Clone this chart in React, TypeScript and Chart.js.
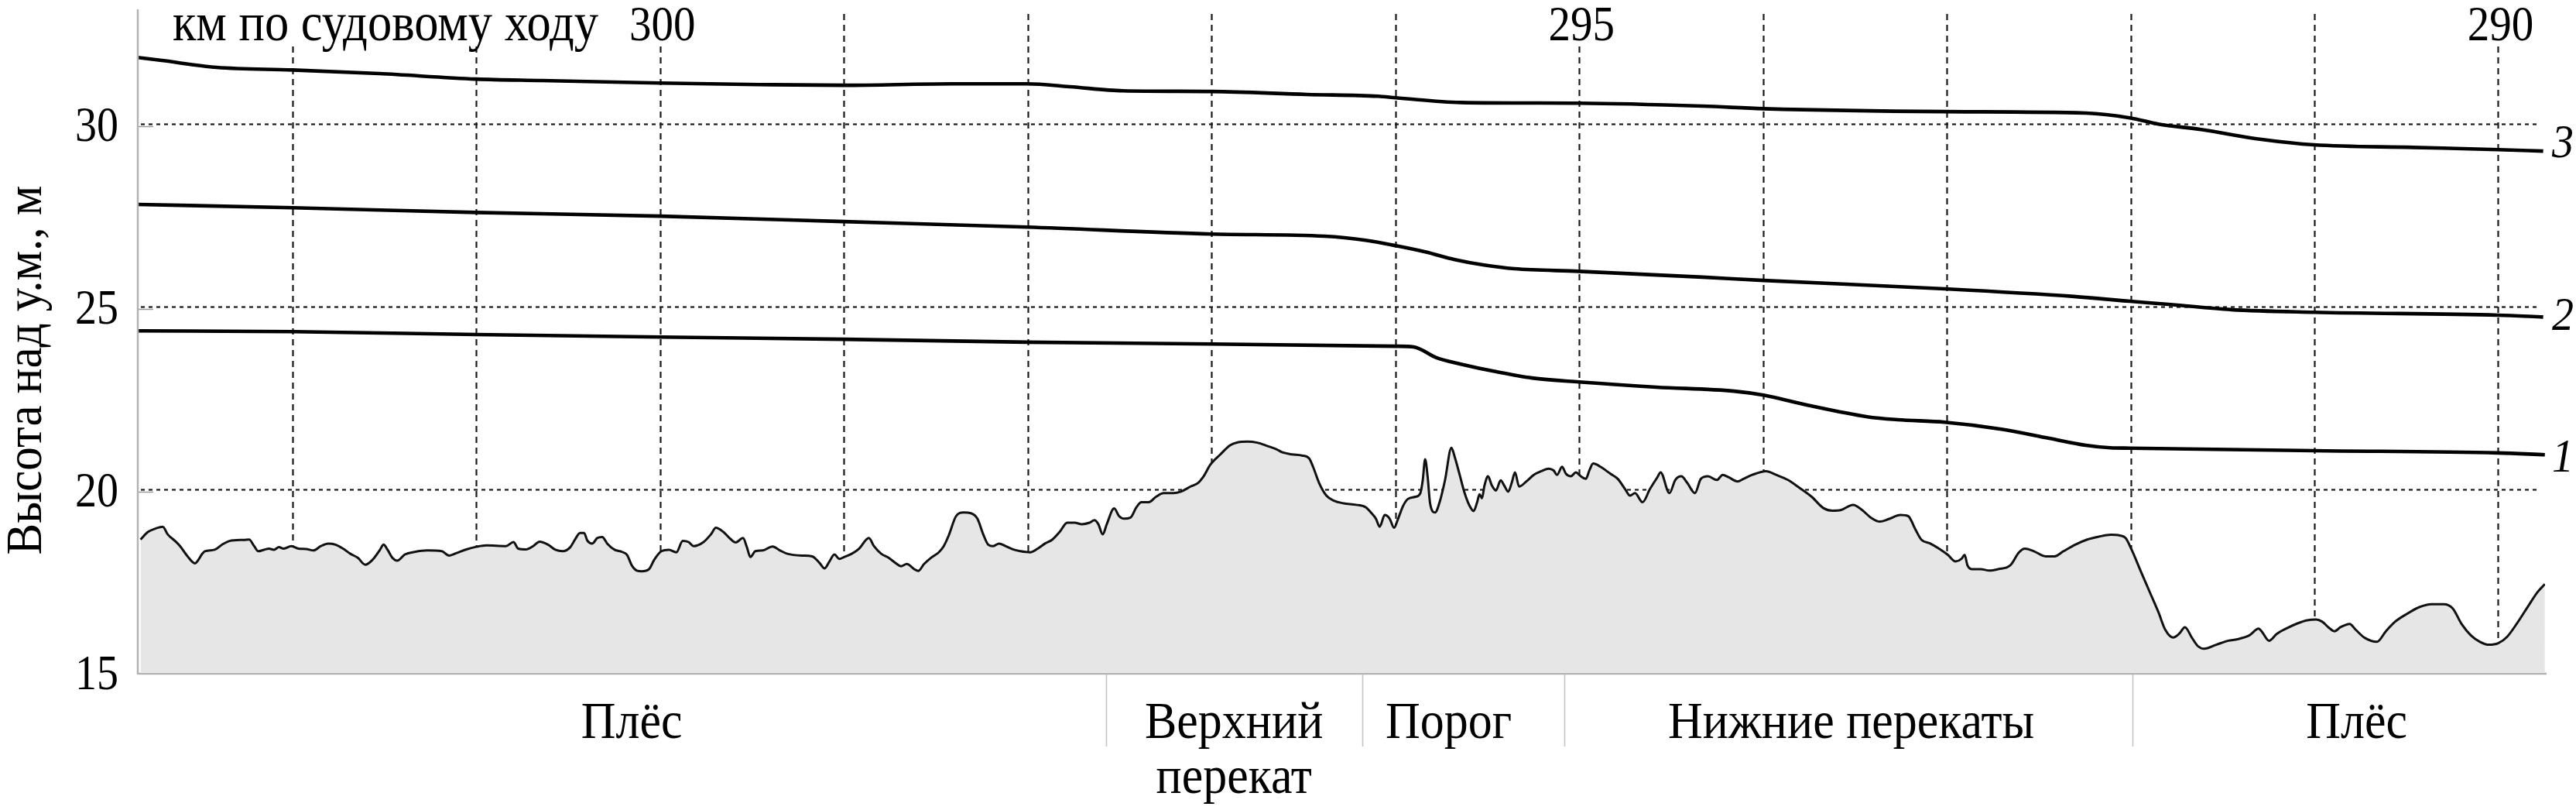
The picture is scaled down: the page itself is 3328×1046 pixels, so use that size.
import React, { useEffect, useRef } from 'react';
import { Chart, registerables } from 'chart.js';

Chart.register(...registerables);

// ---------- data ----------
// river-bed profile (km along the fairway, elevation m a.s.l.)
const profileKm = [
  302.827, 302.786, 302.746, 302.706, 302.679, 302.639, 302.612, 302.571, 302.531, 302.491,
  302.477, 302.424, 302.383, 302.343, 302.263, 302.236, 302.209, 302.187, 302.155, 302.128,
  302.101, 302.074, 302.048, 302.007, 301.967, 301.927, 301.886, 301.846, 301.806, 301.766,
  301.725, 301.685, 301.645, 301.604, 301.564, 301.524, 301.505, 301.483, 301.457, 301.43,
  301.389, 301.336, 301.268, 301.188, 301.148, 301.107, 301.054, 301.0, 300.946, 300.839,
  300.798, 300.772, 300.731, 300.691, 300.656, 300.61, 300.57, 300.53, 300.489, 300.463,
  300.436, 300.414, 300.396, 300.369, 300.342, 300.315, 300.288, 300.248, 300.207, 300.18,
  300.154, 300.127, 300.1, 300.06, 300.033, 299.993, 299.952, 299.912, 299.877, 299.845,
  299.818, 299.764, 299.724, 299.697, 299.657, 299.616, 299.589, 299.549, 299.528, 299.509,
  299.482, 299.442, 299.388, 299.348, 299.308, 299.227, 299.173, 299.133, 299.106, 299.079,
  299.052, 299.025, 298.999, 298.958, 298.918, 298.864, 298.837, 298.797, 298.757, 298.717,
  298.69, 298.658, 298.618, 298.596, 298.564, 298.524, 298.484, 298.457, 298.43, 298.39,
  298.349, 298.309, 298.274, 298.242, 298.215, 298.188, 298.156, 298.121, 298.081, 298.04,
  297.987, 297.946, 297.906, 297.866, 297.826, 297.785, 297.745, 297.705, 297.664, 297.637,
  297.616, 297.592, 297.57, 297.53, 297.503, 297.476, 297.441, 297.409, 297.382, 297.342,
  297.302, 297.261, 297.208, 297.167, 297.114, 297.073, 297.047, 297.006, 296.952, 296.899,
  296.858, 296.805, 296.751, 296.697, 296.643, 296.617, 296.563, 296.509, 296.469, 296.447,
  296.415, 296.375, 296.334, 296.281, 296.214, 296.16, 296.133, 296.106, 296.085, 296.058,
  296.031, 296.007, 295.985, 295.958, 295.932, 295.891, 295.864, 295.851, 295.838, 295.824,
  295.811, 295.784, 295.757, 295.73, 295.695, 295.677, 295.65, 295.623, 295.596, 295.574,
  295.555, 295.542, 295.529, 295.515, 295.496, 295.475, 295.453, 295.427, 295.408, 295.386,
  295.367, 295.349, 295.327, 295.287, 295.247, 295.206, 295.166, 295.139, 295.12, 295.093,
  295.072, 295.045, 295.018, 294.991, 294.964, 294.943, 294.924, 294.884, 294.83, 294.79,
  294.75, 294.723, 294.696, 294.655, 294.615, 294.575, 294.557, 294.509, 294.477, 294.444,
  294.412, 294.37, 294.338, 294.299, 294.251, 294.219, 294.186, 294.138, 294.106, 294.058,
  293.983, 293.929, 293.864, 293.8, 293.735, 293.671, 293.622, 293.574, 293.51, 293.461,
  293.413, 293.364, 293.316, 293.252, 293.21, 293.171, 293.139, 293.09, 293.042, 292.994,
  292.952, 292.92, 292.903, 292.887, 292.865, 292.816, 292.768, 292.72, 292.655, 292.607,
  292.575, 292.526, 292.462, 292.413, 292.365, 292.301, 292.236, 292.172, 292.107, 292.059,
  292.027, 291.994, 291.946, 291.898, 291.849, 291.811, 291.769, 291.736, 291.704, 291.666,
  291.633, 291.6, 291.534, 291.468, 291.419, 291.353, 291.303, 291.287, 291.247, 291.204,
  291.155, 291.089, 291.039, 290.99, 290.957, 290.924, 290.891, 290.858, 290.808, 290.775,
  290.726, 290.66, 290.611, 290.561, 290.495, 290.429, 290.363, 290.297, 290.248, 290.198,
  290.149, 290.099, 290.05, 290.0, 289.951, 289.901, 289.835, 289.786, 289.746,
];
const profileM = [
  18.63, 18.84, 18.93, 18.98, 18.77, 18.59, 18.45, 18.17, 17.98, 18.24,
  18.31, 18.35, 18.49, 18.59, 18.62, 18.63, 18.45, 18.31, 18.35, 18.38,
  18.35, 18.42, 18.38, 18.45, 18.38, 18.37, 18.33, 18.45, 18.52, 18.49,
  18.38, 18.24, 18.13, 17.94, 18.08, 18.35, 18.49, 18.35, 18.13, 18.05,
  18.22, 18.29, 18.33, 18.31, 18.19, 18.26, 18.36, 18.43, 18.47, 18.45,
  18.56, 18.38, 18.36, 18.45, 18.57, 18.49, 18.35, 18.31, 18.42, 18.63,
  18.81, 18.81, 18.6, 18.52, 18.67, 18.7, 18.52, 18.35, 18.29, 18.21,
  17.92, 17.78, 17.76, 17.82, 18.07, 18.31, 18.35, 18.28, 18.59, 18.56,
  18.45, 18.56, 18.77, 18.95, 18.84, 18.64, 18.55, 18.67, 18.42, 18.15,
  18.31, 18.33, 18.44, 18.33, 18.24, 18.19, 18.17, 17.99, 17.84, 18.03,
  18.22, 18.1, 18.15, 18.24, 18.38, 18.67, 18.45, 18.24, 18.13, 17.98,
  17.9, 17.96, 17.82, 17.77, 17.96, 18.14, 18.28, 18.45, 18.74, 19.27,
  19.37, 19.35, 19.2, 18.77, 18.49, 18.45, 18.52, 18.45, 18.36, 18.31,
  18.28, 18.38, 18.52, 18.63, 18.84, 19.09, 19.09, 19.05, 19.09, 19.16,
  19.05, 18.77, 19.05, 19.48, 19.27, 19.2, 19.23, 19.51, 19.65, 19.65,
  19.8, 19.9, 19.9, 19.94, 20.08, 20.18, 20.33, 20.68, 20.96, 21.21,
  21.29, 21.31, 21.28, 21.19, 21.09, 21.02, 20.96, 20.93, 20.85, 20.61,
  20.18, 19.83, 19.69, 19.62, 19.58, 19.51, 19.37, 19.2, 18.98, 19.3,
  19.2, 18.95, 19.2, 19.55, 19.74, 19.8, 19.9, 20.25, 20.83, 20.33,
  19.62, 19.37, 19.69, 20.25, 21.14, 20.89, 20.4, 19.9, 19.55, 19.41,
  19.65, 19.87, 19.76, 20.11, 20.36, 20.11, 19.97, 20.25, 20.11, 19.94,
  20.18, 20.47, 20.08, 20.22, 20.4, 20.5, 20.57, 20.52, 20.4, 20.62,
  20.43, 20.36, 20.47, 20.36, 20.29, 20.54, 20.71, 20.62, 20.43, 20.29,
  20.01, 19.83, 19.9, 19.65, 20.01, 20.33, 20.47, 19.9, 20.26, 20.36,
  20.18, 19.9, 20.29, 20.36, 20.26, 20.4, 20.33, 20.22, 20.29, 20.4,
  20.5, 20.4, 20.26, 20.04, 19.8, 19.49, 19.42, 19.44, 19.58, 19.44,
  19.23, 19.12, 19.19, 19.3, 19.27, 18.91, 18.63, 18.52, 18.38, 18.21,
  18.03, 18.1, 18.21, 17.92, 17.82, 17.82, 17.78, 17.82, 17.92, 18.28,
  18.38, 18.31, 18.17, 18.17, 18.31, 18.49, 18.63, 18.71, 18.76, 18.74,
  18.67, 18.35, 17.78, 17.22, 16.65, 16.16, 15.95, 16.05, 16.23, 15.94,
  15.71, 15.64, 15.75, 15.86, 15.9, 16.01, 16.19, 16.12, 15.86, 16.05,
  16.19, 16.34, 16.42, 16.44, 16.38, 16.23, 16.12, 16.23, 16.32, 16.16,
  15.94, 15.83, 16.12, 16.38, 16.6, 16.78, 16.86, 16.86, 16.75, 16.31,
  16.01, 15.83, 15.75, 15.79, 15.97, 16.31, 16.82, 17.19, 17.41,
];

// water surface 1
const line1Km = [302.842, 302.0, 301.002, 299.999, 299.001, 298.003, 297.0, 295.997, 295.901, 295.774, 295.644, 295.45, 295.256, 295.001, 294.58, 294.157, 293.997, 293.761, 293.432, 293.268, 293.011, 292.703, 292.442, 292.244, 292.11, 292.004, 291.002, 290.0, 289.746];
const line1M = [24.34, 24.32, 24.24, 24.17, 24.11, 24.03, 23.98, 23.92, 23.9, 23.6, 23.43, 23.22, 23.05, 22.94, 22.8, 22.69, 22.58, 22.31, 21.99, 21.91, 21.84, 21.65, 21.4, 21.21, 21.14, 21.13, 21.06, 21.0, 20.95];
// water surface 2
const line2Km = [302.842, 302.0, 301.002, 299.999, 299.001, 298.003, 297.0, 296.385, 296.162, 295.997, 295.837, 295.677, 295.517, 295.353, 295.001, 294.329, 293.997, 293.011, 292.307, 292.004, 291.781, 291.452, 291.002, 290.0, 289.755];
const line2M = [27.8, 27.71, 27.58, 27.48, 27.33, 27.18, 26.99, 26.93, 26.82, 26.67, 26.5, 26.29, 26.14, 26.04, 25.97, 25.81, 25.72, 25.49, 25.28, 25.15, 25.06, 24.92, 24.85, 24.77, 24.72];
// water surface 3
const line3Km = [302.842, 302.712, 302.413, 302.0, 301.528, 301.002, 300.644, 300.0, 299.46, 299.0, 298.415, 298.003, 297.771, 297.48, 297.0, 296.482, 296.094, 295.997, 295.644, 295.0, 294.329, 293.997, 293.011, 292.244, 292.004, 291.849, 291.617, 291.288, 291.002, 290.463, 290.0, 289.755];
const line3M = [31.82, 31.74, 31.55, 31.48, 31.38, 31.23, 31.19, 31.12, 31.08, 31.06, 31.1, 31.1, 31.02, 30.91, 30.89, 30.81, 30.76, 30.72, 30.59, 30.57, 30.49, 30.42, 30.34, 30.3, 30.17, 30.0, 29.85, 29.58, 29.43, 29.36, 29.3, 29.26];

const lineNames = ['1', '2', '3'];

const kmMin = 289.745;
const kmMax = 302.842;
const elevMin = 15;
const elevMax = 33.14;

const kmGrid = [302, 301, 300, 299, 298, 297, 296, 295, 294, 293, 292, 291, 290];
const kmLabelValues = [300, 295, 290];
const kmLabelTexts = ['300', '295', '290'];
const kmCaption = 'км по судовому ходу';

const elevTicks = [15, 20, 25, 30];
const elevGrid = [20, 25, 30];
const yTitle = 'Высота над у.м., м';

const regionBoundsKm = [297.573, 296.18, 295.08, 291.99];
const regionCentersKm = [300.155, 296.878, 295.71, 293.52, 290.77];
const regionLabels = [['Плёс'], ['Верхний', 'перекат'], ['Порог'], ['Нижние перекаты'], ['Плёс']];

// ---------- drawing helpers ----------
const FONT = "'Liberation Serif', 'Times New Roman', Tinos, 'DejaVu Serif', serif";

function drawText(
  ctx: CanvasRenderingContext2D,
  s: string,
  x: number,
  y: number,
  size: number,
  align: CanvasTextAlign,
  sy: number,
  italic = false,
  rotate = false,
) {
  ctx.save();
  ctx.translate(x, y);
  if (rotate) ctx.rotate(-Math.PI / 2);
  ctx.scale(1, sy);
  ctx.font = `${italic ? 'italic ' : ''}${size}px ${FONT}`;
  ctx.textAlign = align;
  ctx.textBaseline = 'alphabetic';
  ctx.fillStyle = '#000';
  ctx.fillText(s, 0, 0);
  ctx.restore();
}

function seg(ctx: CanvasRenderingContext2D, x1: number, y1: number, x2: number, y2: number) {
  ctx.beginPath();
  ctx.moveTo(x1, y1);
  ctx.lineTo(x2, y2);
  ctx.stroke();
}

const lineLabelDy = [22, 17, 8];

const decorPlugin = {
  id: 'decor',
  beforeDatasetsDraw(chart: any) {
    const { ctx, chartArea: a } = chart;
    const xs = chart.scales.x;
    const ys = chart.scales.y;
    ctx.save();
    // horizontal dotted grid
    ctx.strokeStyle = '#1a1a1a';
    ctx.lineWidth = 2.2;
    ctx.setLineDash([5, 5]);
    elevGrid.forEach((v) => {
      const py = Math.round(ys.getPixelForValue(v)) + 0.5;
      seg(ctx, a.left + 4, py, a.right - 8, py);
    });
    // vertical dashed grid
    ctx.lineWidth = 2.2;
    ctx.setLineDash([8, 6]);
    kmGrid.forEach((k) => {
      const px = Math.round(xs.getPixelForValue(k)) + 0.5;
      seg(ctx, px, a.top + 6, px, a.bottom);
    });
    ctx.setLineDash([]);
    // small tick marks on the y axis
    ctx.strokeStyle = '#9a9a9a';
    ctx.lineWidth = 1.5;
    elevGrid.forEach((v) => {
      const py = Math.round(ys.getPixelForValue(v)) + 3.5;
      seg(ctx, a.left, py, a.left + 20, py);
    });

    // top labels with white background
    ctx.font = `62.5px ${FONT}`;
    const capX = a.left + 45;
    const capW = ctx.measureText(kmCaption).width;
    ctx.fillStyle = '#fff';
    ctx.fillRect(capX - 8, 0, capW + 16, 60);
    kmLabelValues.forEach((k) => {
      const px = xs.getPixelForValue(k);
      ctx.fillRect(px - 55, 0, 110, 60);
    });
    drawText(ctx, kmCaption, capX, 52, 62.5, 'left', 1.1);
    kmLabelValues.forEach((k, i) => {
      drawText(ctx, kmLabelTexts[i], xs.getPixelForValue(k) + 3, 52, 57, 'center', 1.12);
    });
    ctx.restore();
  },
  afterDatasetsDraw(chart: any) {
    const { ctx, chartArea: a } = chart;
    const xs = chart.scales.x;
    const ys = chart.scales.y;
    ctx.save();
    // axes
    ctx.strokeStyle = '#b3b3b3';
    ctx.lineWidth = 2.5;
    seg(ctx, a.left, a.top, a.left, a.bottom + 3);
    seg(ctx, a.left, a.bottom + 2, a.right + 2, a.bottom + 2);
    // region separators
    ctx.strokeStyle = '#c4c4c4';
    ctx.lineWidth = 1.6;
    regionBoundsKm.forEach((k) => {
      const px = Math.round(xs.getPixelForValue(k)) + 0.5;
      seg(ctx, px, a.bottom + 3, px, a.bottom + 96);
    });
    // region labels
    regionLabels.forEach((lines, i) => {
      const px = xs.getPixelForValue(regionCentersKm[i]);
      lines.forEach((t, j) => {
        drawText(ctx, t, px, a.bottom + 85 + j * 71, 62, 'center', 1.1);
      });
    });
    // y tick labels
    elevTicks.forEach((v) => {
      drawText(ctx, String(v), a.left - 25, ys.getPixelForValue(v) + 22, 56, 'right', 1.13);
    });
    // y title
    drawText(ctx, yTitle, 53, (a.top + a.bottom) / 2 + 38, 61, 'center', 1.06, false, true);
    // line labels
    const ends = [line1M, line2M, line3M];
    ends.forEach((arr, i) => {
      const py = ys.getPixelForValue(arr[arr.length - 1]);
      drawText(ctx, lineNames[i], a.right + 9, py + lineLabelDy[i], 56, 'left', 1.1, true);
    });
    ctx.restore();
  },
};

export default function App() {
  const ref = useRef<HTMLCanvasElement>(null);
  useEffect(() => {
    const canvas = ref.current;
    if (!canvas) return;
    let alive = true;
    const toXY = (xs: number[], ys: number[]) => xs.map((k, i) => ({ x: k, y: ys[i] }));
    const waterStyle = {
      borderColor: '#000',
      borderWidth: 4.6,
      fill: false,
      pointRadius: 0,
      cubicInterpolationMode: 'monotone' as const,
    };
    const chart = new Chart(canvas, {
      type: 'line',
      data: {
        datasets: [
          {
            label: 'profile',
            data: toXY(profileKm, profileM),
            borderColor: '#111',
            borderWidth: 3,
            backgroundColor: '#e6e6e6',
            fill: 'start',
            pointRadius: 0,
            cubicInterpolationMode: 'monotone',
          },
          { label: lineNames[0], data: toXY(line1Km, line1M), ...waterStyle },
          { label: lineNames[1], data: toXY(line2Km, line2M), ...waterStyle },
          { label: lineNames[2], data: toXY(line3Km, line3M), ...waterStyle },
        ],
      },
      options: {
        responsive: false,
        maintainAspectRatio: false,
        animation: false,
        devicePixelRatio: 1,
        layout: { padding: { top: 12, right: 40, left: 0, bottom: 0 } },
        plugins: { legend: { display: false }, tooltip: { enabled: false } },
        scales: {
          x: {
            type: 'linear',
            reverse: true,
            min: kmMin,
            max: kmMax,
            grid: { display: false },
            border: { display: false },
            ticks: { display: false },
            afterFit: (s: any) => {
              s.height = 178;
            },
          },
          y: {
            type: 'linear',
            min: elevMin,
            max: elevMax,
            grid: { display: false },
            border: { display: false },
            ticks: { display: false },
            afterFit: (s: any) => {
              s.width = 178;
            },
          },
        },
      },
      plugins: [decorPlugin],
    });
    const fonts = (document as any).fonts;
    if (fonts && fonts.load) {
      Promise.all([
        fonts.load("62px 'Liberation Serif'", 'Плёс 0123'),
        fonts.load("italic 56px 'Liberation Serif'", '123'),
      ])
        .catch(() => null)
        .then(() => {
          if (alive) chart.draw();
        });
    }
    return () => {
      alive = false;
      chart.destroy();
    };
  }, []);
  return (
    <canvas
      ref={ref}
      width={3328}
      height={1046}
      style={{ position: 'absolute', left: 0, top: 0, display: 'block', background: '#fff' }}
    />
  );
}
